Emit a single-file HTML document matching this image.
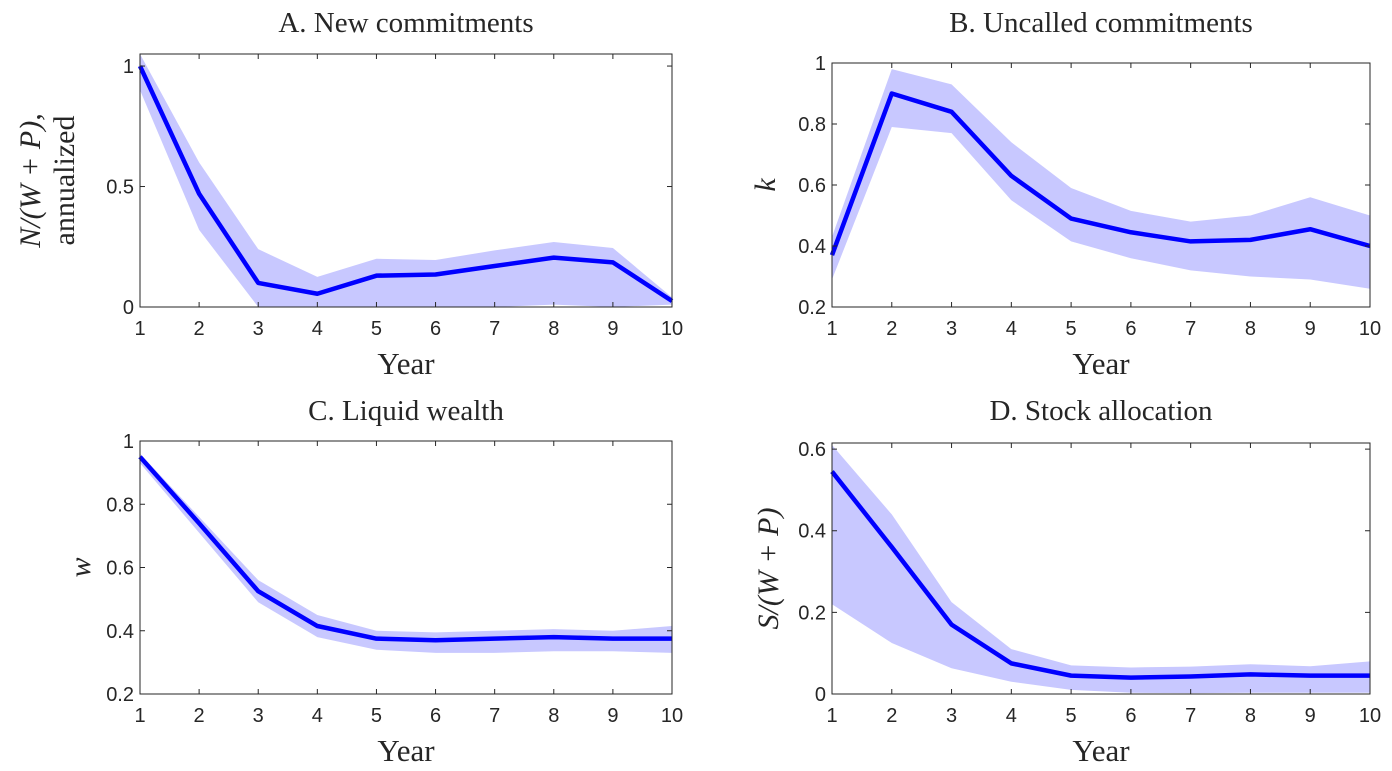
<!DOCTYPE html>
<html><head><meta charset="utf-8"><style>
body{margin:0;background:#fff;}
svg{display:block;}
.tl{font-family:"Liberation Sans",sans-serif;font-size:20px;fill:#262626;}
.ser{font-family:"Liberation Serif",serif;fill:#262626;}
</style></head><body>
<svg id="c" width="1392" height="771"></svg>
<script>
const years=[1,2,3,4,5,6,7,8,9,10];
const aMean=[1,0.47,0.10,0.055,0.13,0.135,0.17,0.205,0.185,0.025];
const aUp=[1.05,0.6,0.24,0.125,0.2,0.195,0.235,0.27,0.245,0.04];
const aLo=[0.9,0.32,0,0,0,0,0,0.01,0,0.01];
const bMean=[0.37,0.9,0.84,0.63,0.49,0.445,0.415,0.42,0.455,0.4];
const bUp=[0.43,0.98,0.93,0.74,0.59,0.515,0.48,0.5,0.56,0.5];
const bLo=[0.29,0.79,0.77,0.55,0.415,0.36,0.32,0.3,0.29,0.26];
const cMean=[0.95,0.74,0.525,0.415,0.375,0.37,0.375,0.38,0.375,0.375];
const cUp=[0.96,0.76,0.56,0.45,0.40,0.395,0.4,0.405,0.40,0.415];
const cLo=[0.93,0.71,0.49,0.38,0.34,0.33,0.33,0.335,0.335,0.33];
const dMean=[0.545,0.36,0.17,0.075,0.045,0.04,0.043,0.048,0.045,0.045];
const dUp=[0.61,0.44,0.225,0.11,0.07,0.065,0.067,0.073,0.068,0.08];
const dLo=[0.22,0.125,0.063,0.03,0.01,0.003,0.002,0.003,0.003,0.003];
const aTicks=[0,0.5,1],aTickLabels=["0","0.5","1"];
const bTicks=[0.2,0.4,0.6,0.8,1],bTickLabels=["0.2","0.4","0.6","0.8","1"];
const dTicks=[0,0.2,0.4,0.6],dTickLabels=["0","0.2","0.4","0.6"];

const svg=document.getElementById('c');
const NS='http://www.w3.org/2000/svg';
function mk(tag,attrs,parent){const e=document.createElementNS(NS,tag);for(const k in attrs)e.setAttribute(k,attrs[k]);(parent||svg).appendChild(e);return e;}

function panel(o){
  const g=mk('g',{});
  
  
  const X=v=>o.x0+(v-1)/9*(o.x1-o.x0);
  const Y=v=>o.yb-(v-o.ymin)/(o.ymax-o.ymin)*(o.yb-o.yt);
  let pts=years.map((yr,i)=>X(yr)+','+Y(o.up[i]));
  pts=pts.concat(years.slice().reverse().map((yr,j)=>{const i=years.length-1-j;return X(yr)+','+Y(o.lo[i]);}));
  const band=mk('polygon',{points:pts.join(' '),fill:'#c8c8ff',stroke:'none'},g);
  
  
  const line=mk('polyline',{points:years.map((yr,i)=>X(yr)+','+Y(o.mean[i])).join(' '),fill:'none',stroke:'#0000ff','stroke-width':4.5,'stroke-linejoin':'round'},g);
  
  
  const box=mk('rect',{x:o.x0,y:o.yt,width:o.x1-o.x0,height:o.yb-o.yt,fill:'none',stroke:'#262626','stroke-width':1},g);
  
  
  years.forEach(yr=>{
    const x=X(yr);
    mk('line',{x1:x,x2:x,y1:o.yb,y2:o.yb-5,stroke:'#262626'},g);
    mk('line',{x1:x,x2:x,y1:o.yt,y2:o.yt+5,stroke:'#262626'},g);
    const t=mk('text',{x:x,y:o.yb+28,'text-anchor':'middle',class:'tl'},g);
    t.textContent=yr;
    
    
  });
  o.ticks.forEach((v,i)=>{
    const y=Y(v);
    mk('line',{x1:o.x0,x2:o.x0+5,y1:y,y2:y,stroke:'#262626'},g);
    mk('line',{x1:o.x1,x2:o.x1-5,y1:y,y2:y,stroke:'#262626'},g);
    const t=mk('text',{x:o.x0-6,y:y+7,'text-anchor':'end',class:'tl'},g);
    t.textContent=o.tl[i];
    
    
  });
  const tt=mk('text',{x:(o.x0+o.x1)/2,y:o.ty,'text-anchor':'middle',class:'ser','font-size':29},g);
  tt.textContent=o.title;
  
  
  const xl=mk('text',{x:(o.x0+o.x1)/2,y:o.yb+67,'text-anchor':'middle',class:'ser','font-size':31},g);
  xl.textContent='Year';
  
  
  o.ylab.forEach((l,i)=>{
    const cy=(o.yt+o.yb)/2;
    const yl=mk('text',{x:0,y:0,'text-anchor':'middle',class:'ser','font-size':30,'font-style':l.it?'italic':'normal',transform:`translate(${l.x},${cy}) rotate(-90)`},g);
    yl.textContent=l.t;
    
    
  });
}
panel({name:'panel-a-new-commitments',x0:140,x1:672,yt:54,yb:307,ty:32,ymin:0,ymax:1.05,mean:aMean,up:aUp,lo:aLo,ticks:aTicks,tl:aTickLabels,title:'A. New commitments',ylab:[{t:'N/(W + P),',x:40,it:true},{t:'annualized',x:74}]});
panel({name:'panel-b-uncalled-commitments',x0:832,x1:1370,yt:63,yb:307,ty:32,ymin:0.2,ymax:1,mean:bMean,up:bUp,lo:bLo,ticks:bTicks,tl:bTickLabels,title:'B. Uncalled commitments',ylab:[{t:'k',x:775,it:true}]});
panel({name:'panel-c-liquid-wealth',x0:140,x1:672,yt:441,yb:694,ty:420,ymin:0.2,ymax:1,mean:cMean,up:cUp,lo:cLo,ticks:bTicks,tl:bTickLabels,title:'C. Liquid wealth',ylab:[{t:'w',x:90,it:true}]});
panel({name:'panel-d-stock-allocation',x0:832,x1:1370,yt:443,yb:694,ty:420,ymin:0,ymax:0.615,mean:dMean,up:dUp,lo:dLo,ticks:dTicks,tl:dTickLabels,title:'D. Stock allocation',ylab:[{t:'S/(W + P)',x:778,it:true}]});
</script>
</body></html>
